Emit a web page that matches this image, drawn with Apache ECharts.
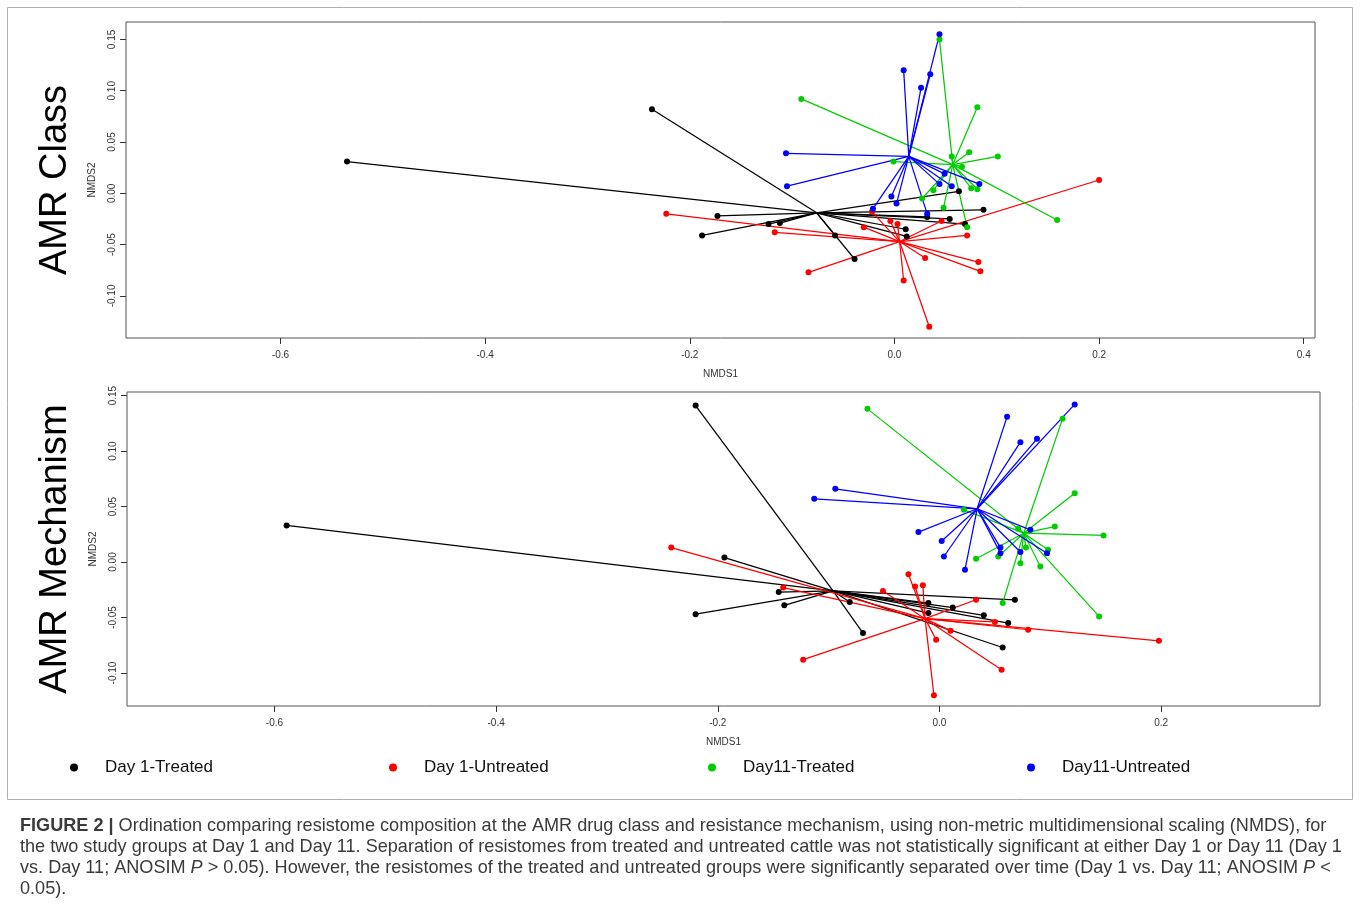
<!DOCTYPE html>
<html>
<head>
<meta charset="utf-8">
<title>Figure 2 - NMDS ordination of resistome</title>
<script src="https://cdn.jsdelivr.net/npm/echarts@6/dist/echarts.min.js"></script>
<style>
    html, body {margin: 0; padding: 0; background: #fff;}
    #chart {width: 1360px; height: 920px;}
</style>
</head>
<body>
<div id="chart"></div>
<script>
// tick labels
var xTicksClass = [-0.6, -0.4, -0.2, 0.0, 0.2, 0.4];
var xTicksMech = [-0.6, -0.4, -0.2, 0.0, 0.2];
var yTicks = [-0.10, -0.05, 0.00, 0.05, 0.10, 0.15];

// groups (legend order)
var groupNames = ['Day 1-Treated', 'Day 1-Untreated', 'Day11-Treated', 'Day11-Untreated'];

// AMR Class: group centroids (same order as groupNames) and site scores [NMDS1, NMDS2]
var classCentroids = [[-0.076, -0.019], [0.005, -0.047], [0.057, 0.028], [0.014, 0.036]];
var classD1Treated = [[-0.535, 0.031], [-0.237, 0.082], [-0.188, -0.041], [-0.173, -0.022], [-0.123, -0.030],
    [-0.112, -0.029], [-0.058, -0.041], [-0.039, -0.064], [0.063, 0.002], [0.087, -0.016], [0.032, -0.023],
    [0.054, -0.025], [0.011, -0.035], [0.012, -0.042], [0.069, -0.030]];
var classD1Untreated = [[-0.223, -0.020], [-0.117, -0.038], [-0.084, -0.077], [-0.030, -0.033], [-0.022, -0.018],
    [-0.004, -0.027], [0.003, -0.030], [0.046, -0.027], [0.071, -0.041], [0.030, -0.063], [0.082, -0.067],
    [0.084, -0.076], [0.009, -0.085], [0.034, -0.130], [0.200, 0.013]];
var classD11Treated = [[0.044, 0.150], [-0.091, 0.092], [0.081, 0.084], [0.101, 0.036], [0.073, 0.040],
    [0.066, 0.026], [-0.001, 0.031], [0.159, -0.026], [0.048, -0.014], [0.038, 0.003], [0.075, 0.005],
    [0.081, 0.004], [0.071, -0.033], [0.056, 0.036], [0.027, -0.005]];
var classD11Untreated = [[0.044, 0.155], [0.009, 0.120], [0.035, 0.116], [0.026, 0.103], [-0.106, 0.039],
    [-0.105, 0.007], [-0.021, -0.015], [-0.003, -0.003], [0.002, -0.010], [0.032, -0.020], [0.044, 0.009],
    [0.056, 0.007], [0.083, 0.009], [0.049, 0.019]];

// AMR Mechanism
var mechCentroids = [[-0.096, -0.026], [-0.013, -0.051], [0.076, 0.026], [0.034, 0.048]];
var mechD1Treated = [[-0.589, 0.033], [-0.220, 0.141], [-0.220, -0.047], [-0.194, 0.004], [-0.145, -0.027],
    [-0.140, -0.039], [-0.069, -0.064], [-0.081, -0.036], [-0.010, -0.037], [-0.010, -0.046], [0.012, -0.041],
    [0.040, -0.048], [0.062, -0.055], [0.068, -0.034], [0.057, -0.077]];
var mechD1Untreated = [[-0.242, 0.013], [-0.141, -0.023], [-0.123, -0.088], [-0.051, -0.026], [-0.028, -0.011],
    [-0.022, -0.022], [-0.015, -0.021], [0.033, -0.034], [-0.003, -0.070], [0.010, -0.062], [0.056, -0.097],
    [-0.005, -0.120], [0.080, -0.061], [0.198, -0.071], [0.050, -0.054]];
var mechD11Treated = [[-0.065, 0.138], [0.111, 0.129], [0.122, 0.062], [0.148, 0.024], [0.144, -0.049],
    [0.057, -0.037], [0.104, 0.032], [0.098, 0.011], [0.091, -0.004], [0.073, -0.001], [0.078, 0.013],
    [0.053, 0.005], [0.033, 0.003], [0.022, 0.047], [0.071, 0.030]];
var mechD11Untreated = [[0.122, 0.142], [0.061, 0.131], [0.088, 0.111], [0.073, 0.108], [-0.094, 0.066],
    [-0.113, 0.057], [-0.019, 0.027], [0.002, 0.019], [0.004, 0.005], [0.023, -0.007], [0.055, 0.013],
    [0.055, 0.008], [0.073, 0.009], [0.097, 0.008], [0.082, 0.029]];

var classGroups = [classD1Treated, classD1Untreated, classD11Treated, classD11Untreated];
var mechGroups = [mechD1Treated, mechD1Untreated, mechD11Treated, mechD11Untreated];

var colors = ['#000000', '#ff0000', '#00cd00', '#0000ff'];
var FONT = '"Liberation Sans", Arial, Helvetica, sans-serif';

var chart = echarts.init(document.getElementById('chart'), null, {renderer: 'canvas'});

/**
 * 一组数据：散点 + 从质心出发的辐射线 (ordispider)
 */
function spider(gridIdx, centroids, groups) {
    var dots = [], spokes = [];
    groups.forEach(function (pts, i) {
        dots.push({
            type: 'scatter', name: groupNames[i], xAxisIndex: gridIdx, yAxisIndex: gridIdx,
            data: pts, symbol: 'circle', symbolSize: 6, silent: true, z: 4,
            itemStyle: {color: colors[i], opacity: 1}
        });
        spokes.push({
            type: 'lines', name: groupNames[i], coordinateSystem: 'cartesian2d',
            xAxisIndex: gridIdx, yAxisIndex: gridIdx, silent: true, z: 3,
            lineStyle: {color: colors[i], width: 1.25, opacity: 1, curveness: 0},
            data: pts.map(function (p) { return {coords: [centroids[i], p]}; })
        });
    });
    return dots.concat(spokes);
}

function xAxisOf(gridIdx, min, max, ticks) {
    return {
        type: 'value', gridIndex: gridIdx, min: min, max: max, position: 'bottom',
        splitLine: {show: false},
        axisLine: {show: false, onZero: false},
        axisTick: {show: true, customValues: ticks, length: 6, lineStyle: {color: '#333', width: 1}},
        axisLabel: {customValues: ticks, fontSize: 10, color: '#333', margin: 12, fontFamily: FONT,
            formatter: function (v) { return v.toFixed(1); }},
        name: 'NMDS1', nameLocation: 'middle', nameGap: 31,
        nameTextStyle: {fontSize: 10, color: '#333', fontFamily: FONT}
    };
}

function yAxisOf(gridIdx, min, max) {
    return {
        type: 'value', gridIndex: gridIdx, min: min, max: max, position: 'left',
        splitLine: {show: false},
        axisLine: {show: false, onZero: false},
        axisTick: {show: true, customValues: yTicks, length: 6, lineStyle: {color: '#333', width: 1}},
        axisLabel: {customValues: yTicks, rotate: 90, fontSize: 10, color: '#333', margin: 9, fontFamily: FONT,
            formatter: function (v) { return v.toFixed(2); }},
        name: 'NMDS2', nameLocation: 'middle', nameGap: 29, nameRotate: 90,
        nameTextStyle: {fontSize: 10, color: '#333', fontFamily: FONT}
    };
}

var legendLeft = [65, 384, 703, 1022];
var legends = groupNames.map(function (n, i) {
    return {
        left: legendLeft[i], top: 754, selectedMode: false,
        itemWidth: 8, itemHeight: 8,
        data: [{name: n, icon: 'circle', itemStyle: {color: colors[i]}}],
        textStyle: {fontSize: 17, color: '#111', fontFamily: FONT, padding: [0, 0, 0, 22]}
    };
});

var caption = [
    '{b|FIGURE 2 |} Ordination comparing resistome composition at the AMR drug class and resistance mechanism, using non-metric multidimensional scaling (NMDS), for',
    'the two study groups at Day 1 and Day 11. Separation of resistomes from treated and untreated cattle was not statistically significant at either Day 1 or Day 11 (Day 1',
    'vs. Day 11; ANOSIM {i|P} > 0.05). However, the resistomes of the treated and untreated groups were significantly separated over time (Day 1 vs. Day 11; ANOSIM {i|P} <',
    '0.05).'
];

var graphics = [
    {type: 'rect', shape: {x: 7.5, y: 7.5, width: 1345, height: 792}, style: {fill: null, stroke: '#b0b0b0', lineWidth: 1}, z: -1},
    {type: 'text', x: 56, y: 180, rotation: Math.PI / 2,
        style: {text: 'AMR Class', font: '38px ' + FONT, fill: '#000', textAlign: 'center', textVerticalAlign: 'middle'}},
    {type: 'text', x: 56, y: 549, rotation: Math.PI / 2,
        style: {text: 'AMR Mechanism', font: '38px ' + FONT, fill: '#000', textAlign: 'center', textVerticalAlign: 'middle'}}
];
caption.forEach(function (line, i) {
    graphics.push({
        type: 'text', left: 20, top: 817 + i * 21,
        style: {
            text: line, font: '18.1px ' + FONT, fill: '#3a3a3a',
            rich: {
                b: {fontWeight: 'bold', fontSize: 18.1, fontFamily: FONT, fill: '#3a3a3a'},
                i: {fontStyle: 'italic', fontSize: 18.1, fontFamily: FONT, fill: '#3a3a3a'}
            }
        }
    });
});

var option = {
    backgroundColor: '#ffffff',
    animation: false,
    textStyle: {fontFamily: FONT},
    grid: [
        {left: 126, top: 22, width: 1189, height: 316, show: true, borderColor: '#555', borderWidth: 1, backgroundColor: 'transparent'},
        {left: 127, top: 392, width: 1193, height: 314, show: true, borderColor: '#555', borderWidth: 1, backgroundColor: 'transparent'}
    ],
    xAxis: [xAxisOf(0, -0.751, 0.411, xTicksClass), xAxisOf(1, -0.733, 0.3433, xTicksMech)],
    yAxis: [yAxisOf(0, -0.141, 0.167), yAxisOf(1, -0.1297, 0.1532)],
    legend: legends,
    graphic: graphics,
    series: spider(0, classCentroids, classGroups).concat(spider(1, mechCentroids, mechGroups))
};

chart.setOption(option);
</script>
</body>
</html>
